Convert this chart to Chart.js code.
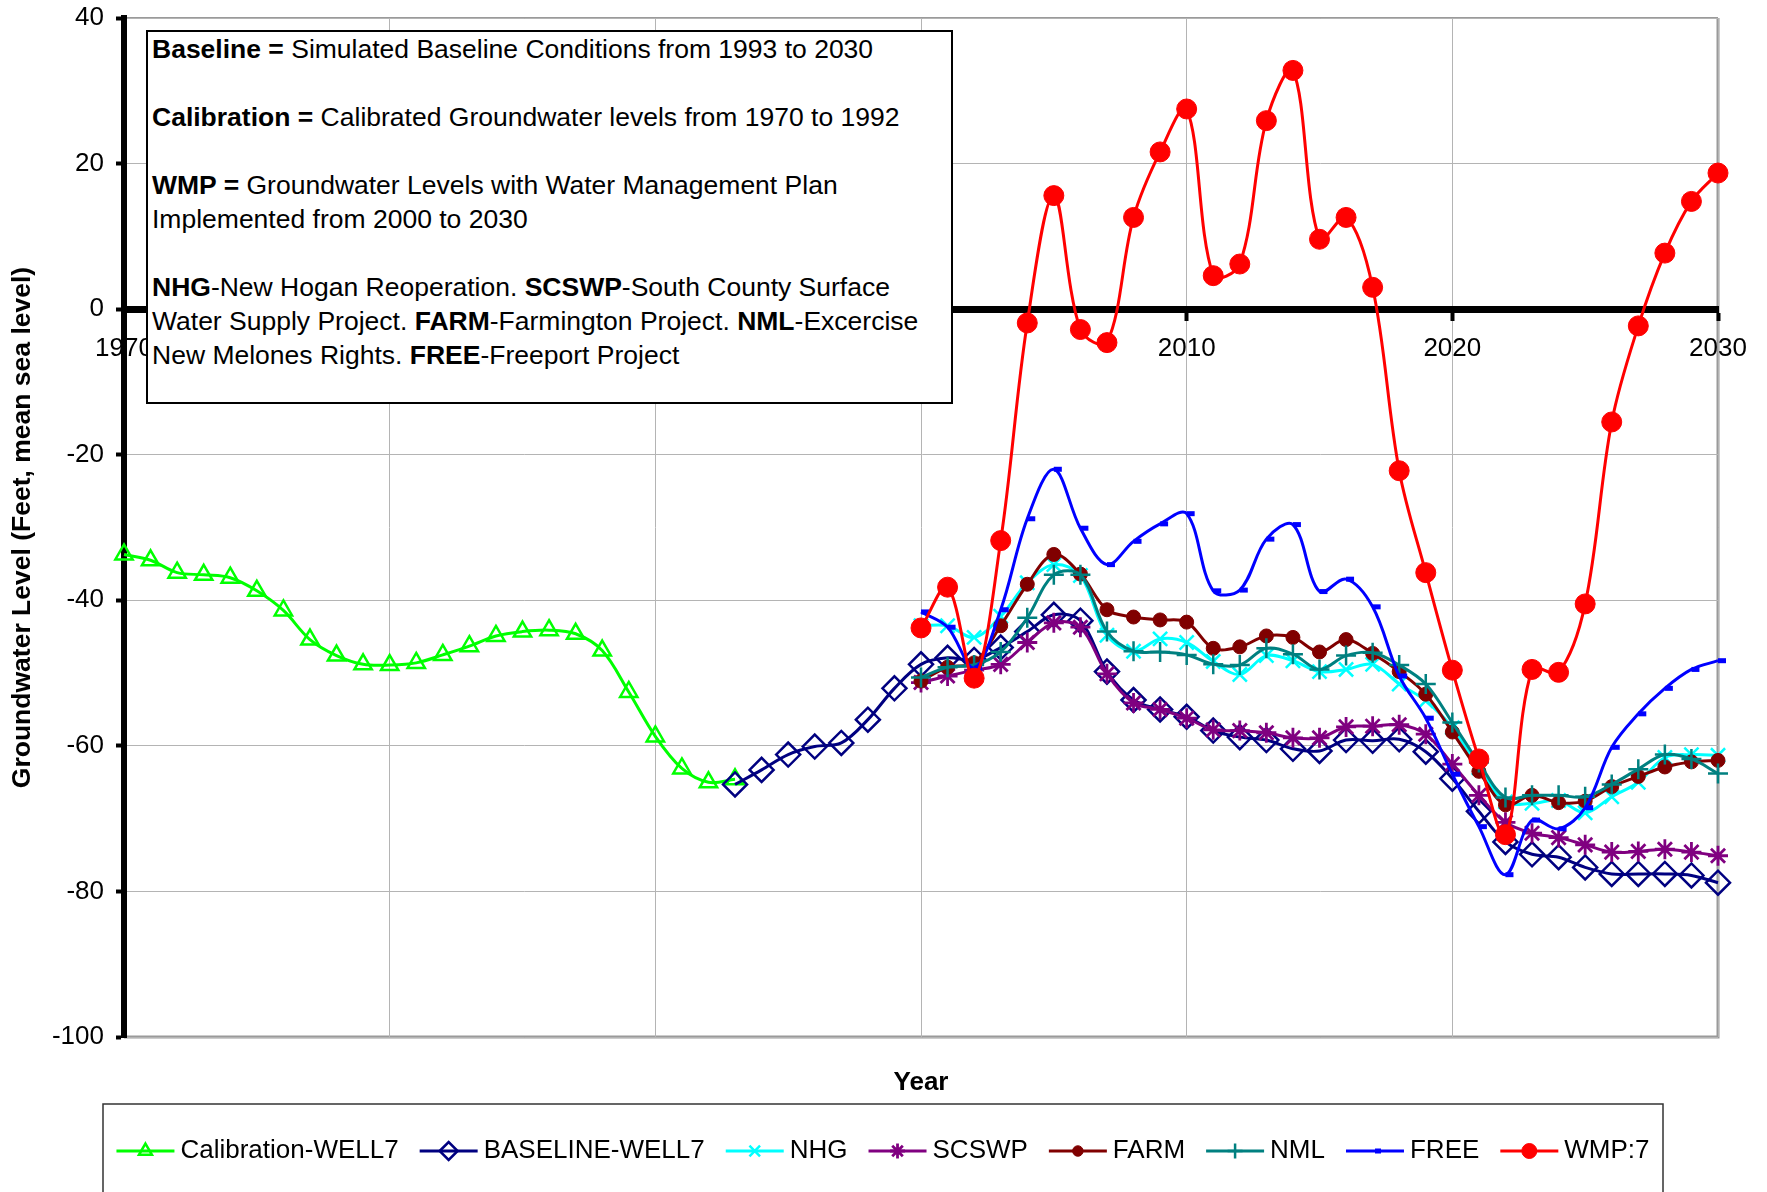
<!DOCTYPE html>
<html>
<head>
<meta charset="utf-8">
<title>Groundwater Level - Well 7</title>
<script src="https://cdn.jsdelivr.net/npm/chart.js@4/dist/chart.umd.min.js"></script>
<style>
  html, body { margin: 0; padding: 0; background: #fff; }
  #wrap { position: relative; width: 1767px; height: 1192px; overflow: hidden; }
  #chart { position: absolute; left: 0; top: 0; }
  #note {
    position: absolute; left: 146px; top: 30px; width: 807px; height: 374px;
    box-sizing: border-box; border: 2px solid #000; background: #fff;
    padding: 0 0 0 4px; color: #000; white-space: nowrap;
    font-family: "Liberation Sans", Arial, sans-serif; font-size: 26.5px; line-height: 34px;
  }
  #note b { font-weight: bold; }
</style>
</head>
<body>
<div id="wrap">
  <canvas id="chart" width="1767" height="1192"></canvas>
  <div id="note">
    <div><b>Baseline =</b> Simulated Baseline Conditions from 1993 to 2030</div>
    <div>&nbsp;</div>
    <div><b>Calibration =</b> Calibrated Groundwater levels from 1970 to 1992</div>
    <div>&nbsp;</div>
    <div><b>WMP =</b> Groundwater Levels with Water Management Plan</div>
    <div>Implemented from 2000 to 2030</div>
    <div>&nbsp;</div>
    <div><b>NHG</b>-New Hogan Reoperation. <b>SCSWP</b>-South County Surface</div>
    <div>Water Supply Project. <b>FARM</b>-Farmington Project. <b>NML</b>-Excercise</div>
    <div>New Melones Rights. <b>FREE</b>-Freeport Project</div>
  </div>
</div>
<script>
// Years
const calibrationYears = [1970, 1971, 1972, 1973, 1974, 1975, 1976, 1977, 1978, 1979, 1980, 1981,
  1982, 1983, 1984, 1985, 1986, 1987, 1988, 1989, 1990, 1991, 1992, 1993];
const baselineYears = [1993, 1994, 1995, 1996, 1997, 1998, 1999, 2000, 2001, 2002, 2003, 2004, 2005,
  2006, 2007, 2008, 2009, 2010, 2011, 2012, 2013, 2014, 2015, 2016, 2017, 2018, 2019, 2020, 2021,
  2022, 2023, 2024, 2025, 2026, 2027, 2028, 2029, 2030];
const planYears = [2000, 2001, 2002, 2003, 2004, 2005, 2006, 2007, 2008, 2009, 2010, 2011, 2012,
  2013, 2014, 2015, 2016, 2017, 2018, 2019, 2020, 2021, 2022, 2023, 2024, 2025, 2026, 2027, 2028,
  2029, 2030];

// Groundwater levels (feet, mean sea level)
const calibrationLevels = [-33.7, -34.5, -36.2, -36.5, -36.9, -38.7, -41.4, -45.4, -47.6, -48.8,
  -48.9, -48.6, -47.5, -46.3, -44.9, -44.3, -44.1, -44.6, -46.9, -52.6, -58.7, -63.1, -65.0, -64.6];
const baselineLevels = [-65.3, -63.3, -61.2, -60.1, -59.6, -56.4, -52.1, -48.8, -47.9, -48.2, -46.5,
  -44.3, -42.0, -42.8, -49.8, -53.7, -55.0, -56.0, -57.9, -58.8, -59.2, -60.4, -60.7, -59.2, -59.3,
  -59.1, -60.8, -64.5, -69.0, -73.2, -74.9, -75.3, -76.7, -77.6, -77.6, -77.6, -77.8, -78.8];
const nhgLevels = [-43.5, -43.5, -45.1, -42.2, -37.6, -35.1, -36.6, -44.8, -47.0, -45.3, -45.8,
  -48.4, -50.2, -47.6, -48.3, -49.8, -49.5, -48.8, -51.5, -53.8, -57.5, -63.0, -67.7, -67.9, -67.5,
  -69.2, -67.0, -65.0, -61.6, -61.2, -61.3];
const scswpLevels = [-51.3, -50.4, -49.6, -48.8, -45.8, -43.1, -43.7, -50.1, -54.1, -55.0, -56.2,
  -57.8, -57.9, -58.2, -58.9, -58.9, -57.4, -57.3, -57.1, -58.4, -62.5, -66.8, -70.5, -72.0, -72.6,
  -73.6, -74.6, -74.5, -74.2, -74.6, -75.1];
const farmLevels = [-51.1, -49.2, -48.6, -43.5, -37.8, -33.7, -36.4, -41.3, -42.3, -42.7, -43.0,
  -46.6, -46.4, -44.9, -45.1, -47.1, -45.4, -47.3, -49.8, -52.9, -58.1, -63.5, -68.1, -66.8, -67.8,
  -67.6, -65.6, -64.2, -62.9, -62.2, -62.0];
const nmlLevels = [-50.6, -49.2, -48.9, -47.1, -42.4, -36.5, -36.5, -44.3, -47.0, -47.1, -47.5,
  -48.8, -48.9, -46.6, -47.4, -49.5, -47.6, -47.2, -48.9, -51.5, -56.8, -62.3, -67.1, -66.8, -66.8,
  -67.0, -65.3, -63.2, -61.2, -61.8, -63.8];
const freeLevels = [-41.6, -43.7, -49.3, -41.3, -28.8, -22.0, -30.1, -35.1, -31.9, -29.5, -28.1,
  -38.7, -38.6, -31.6, -29.6, -38.8, -37.1, -40.9, -50.4, -56.2, -63.9, -71.1, -77.7, -70.2, -71.4,
  -68.5, -60.2, -55.6, -52.1, -49.5, -48.3];
const wmpLevels = [-43.8, -38.2, -50.7, -31.8, -1.9, 15.6, -2.8, -4.6, 12.6, 21.6, 27.5, 4.6, 6.2,
  25.9, 32.8, 9.6, 12.6, 3.0, -22.2, -36.2, -49.6, -61.8, -72.2, -49.5, -49.9, -40.5, -15.5, -2.3,
  7.7, 14.8, 18.7];

// Axis ticks
const yearTicks = [1970, 1980, 1990, 2000, 2010, 2020, 2030];
const levelTicks = [-100, -80, -60, -40, -20, 0, 20, 40];

const FONT = '"Liberation Sans", Arial, sans-serif';

function toPoints(xs, ys) {
  return xs.map((x, i) => ({ x: x, y: ys[i] }));
}

function series(label, xs, ys, color, style, radius, fillMarker, markerWidth) {
  return {
    label: label,
    data: toPoints(xs, ys),
    borderColor: color,
    borderWidth: 3,
    tension: 0.35,
    fill: false,
    clip: false,
    pointStyle: style,
    pointRadius: radius,
    pointBorderColor: color,
    pointBackgroundColor: fillMarker ? color : 'rgba(0,0,0,0)',
    pointBorderWidth: markerWidth
  };
}

const datasets = [
  series('Calibration-WELL7', calibrationYears, calibrationLevels, '#00ff00', 'triangle', 10, false, 2.5),
  series('BASELINE-WELL7', baselineYears, baselineLevels, '#000080', 'rectRot', 12, false, 2.5),
  series('NHG', planYears, nhgLevels, '#00ffff', 'crossRot', 10, false, 2.5),
  series('SCSWP', planYears, scswpLevels, '#800080', 'star', 10, false, 2.8),
  series('FARM', planYears, farmLevels, '#800000', 'circle', 7, true, 1),
  series('NML', planYears, nmlLevels, '#008080', 'cross', 10, false, 2.5),
  series('FREE', planYears, freeLevels, '#0000ff', 'dash', 8, false, 5),
  series('WMP:7', planYears, wmpLevels, '#ff0000', 'circle', 10, true, 1)
];
// later series are painted on top
datasets.forEach((d, i) => { d.order = datasets.length - i; });

// gray frame around the plot area
const plotFrame = {
  id: 'plotFrame',
  beforeDraw(chart) {
    const { ctx, chartArea: a } = chart;
    ctx.save();
    ctx.strokeStyle = '#9a9a9a';
    ctx.lineWidth = 2;
    ctx.beginPath();
    ctx.moveTo(a.left, a.top);
    ctx.lineTo(a.right, a.top);
    ctx.stroke();
    ctx.lineWidth = 3;
    ctx.beginPath();
    ctx.moveTo(a.right, a.top);
    ctx.lineTo(a.right, a.bottom);
    ctx.lineTo(a.left, a.bottom);
    ctx.stroke();
    ctx.restore();
  }
};

// x axis title and the boxed legend underneath the plot
const bottomLegend = {
  id: 'bottomLegend',
  afterDraw(chart) {
    const { ctx, chartArea: a } = chart;
    ctx.save();
    ctx.fillStyle = '#000';
    ctx.font = 'bold 26px ' + FONT;
    ctx.textAlign = 'center';
    ctx.textBaseline = 'middle';
    ctx.fillText('Year', (a.left + a.right) / 2, 1083);

    const boxLeft = 103, boxRight = 1663, boxTop = 1104;
    ctx.strokeStyle = '#333';
    ctx.lineWidth = 1.5;
    ctx.strokeRect(boxLeft, boxTop, boxRight - boxLeft, 200);

    ctx.font = '26px ' + FONT;
    const lineLen = 58, textGap = 6, itemGap = 21;
    const items = chart.data.datasets.map(ds => ({ ds: ds, w: ctx.measureText(ds.label).width }));
    const total = items.reduce((s, it) => s + lineLen + textGap + it.w, 0) + itemGap * (items.length - 1);
    let x = (boxLeft + boxRight) / 2 - total / 2;
    const y = 1151;
    const drawPoint = Chart.helpers && Chart.helpers.drawPoint;
    items.forEach(it => {
      const ds = it.ds;
      ctx.strokeStyle = ds.borderColor;
      ctx.lineWidth = 3;
      ctx.beginPath();
      ctx.moveTo(x, y);
      ctx.lineTo(x + lineLen, y);
      ctx.stroke();
      if (drawPoint) {
        ctx.fillStyle = ds.pointBackgroundColor;
        ctx.strokeStyle = ds.pointBorderColor;
        ctx.lineWidth = ds.pointBorderWidth;
        drawPoint(ctx, { pointStyle: ds.pointStyle, rotation: 0, radius: ds.pointRadius * 0.75,
          borderWidth: ds.pointBorderWidth }, x + lineLen / 2, y);
      }
      ctx.fillStyle = '#000';
      ctx.textAlign = 'left';
      ctx.textBaseline = 'middle';
      ctx.fillText(ds.label, x + lineLen + textGap, y);
      x += lineLen + textGap + it.w + itemGap;
    });
    ctx.restore();
  }
};

new Chart(document.getElementById('chart'), {
  type: 'line',
  data: { datasets: datasets },
  options: {
    responsive: false,
    devicePixelRatio: 1,
    animation: false,
    events: [],
    layout: { padding: { left: 0, top: 18, right: 49, bottom: 155 } },
    plugins: { legend: { display: false }, tooltip: { enabled: false } },
    scales: {
      x: {
        type: 'linear',
        min: 1970,
        max: 2030,
        position: { y: 0 },
        afterBuildTicks: s => { s.ticks = yearTicks.map(v => ({ value: v })); },
        ticks: {
          callback: v => String(v),
          autoSkip: false,
          maxRotation: 0,
          padding: 16,
          color: '#000',
          font: { family: FONT, size: 26 }
        },
        grid: { color: '#b4b4b4', lineWidth: 1, tickColor: '#000', tickLength: 8, tickWidth: 4 },
        border: { color: '#000', width: 7 }
      },
      y: {
        type: 'linear',
        min: -100,
        max: 40,
        position: 'left',
        afterBuildTicks: s => { s.ticks = levelTicks.map(v => ({ value: v })); },
        afterFit: s => { s.width = 124; s.paddingTop = 0; s.paddingBottom = 0; },
        ticks: {
          padding: 12,
          color: '#000',
          font: { family: FONT, size: 26 }
        },
        grid: { color: '#b4b4b4', lineWidth: 1, tickColor: '#000', tickLength: 8, tickWidth: 4 },
        border: { color: '#000', width: 6 },
        title: {
          display: true,
          text: 'Groundwater Level (Feet, mean sea level)',
          color: '#000',
          font: { family: FONT, size: 26.5, weight: 'bold' },
          padding: { top: 7, bottom: 0 }
        }
      }
    }
  },
  plugins: [plotFrame, bottomLegend]
});
</script>
</body>
</html>
